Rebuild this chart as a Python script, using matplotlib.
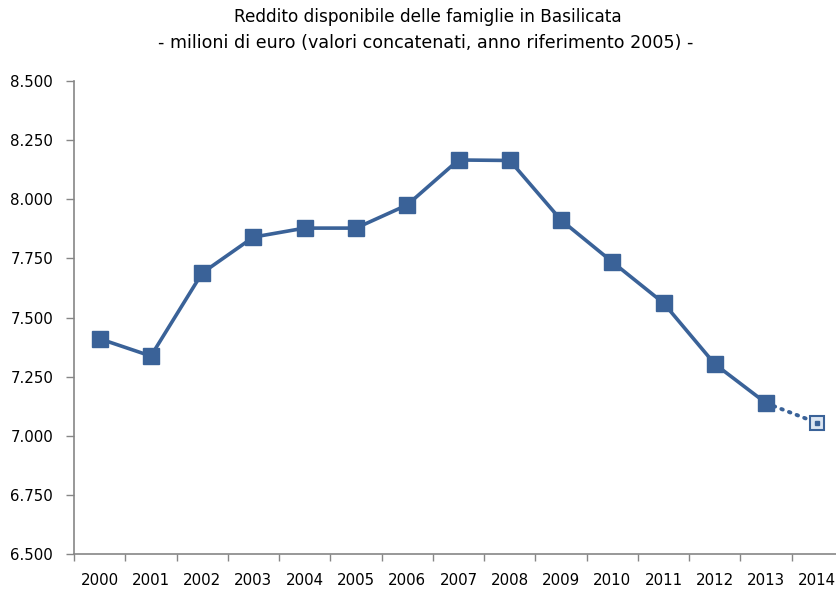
import matplotlib
matplotlib.use("Agg")
import matplotlib.pyplot as plt
from matplotlib.ticker import FuncFormatter, FixedLocator

years = ["2000", "2001", "2002", "2003", "2004", "2005", "2006", "2007",
         "2008", "2009", "2010", "2011", "2012", "2013", "2014"]
reddito = [7.410, 7.337, 7.688, 7.840, 7.878, 7.878, 7.976, 8.166,
           8.164, 7.912, 7.735, 7.561, 7.303, 7.138, 7.054]
y_ticks = [6.5, 6.75, 7.0, 7.25, 7.5, 7.75, 8.0, 8.25, 8.5]

plt.rcParams['font.family'] = ['DejaVu Sans']
W, H = 836, 591
fig = plt.figure(figsize=(W / 100, H / 100), dpi=100)
ax = fig.add_axes([74 / W, 1 - 554 / H, (843 - 74) / W, (554 - 81) / H])

blue = "#3A6298"
grey = "#868686"
x = list(range(len(years)))

# observed series (solid) and estimate for the last year (dotted)
ax.plot(x[:-1], reddito[:-1], color=blue, lw=2.6, marker="s", ms=11,
        mfc=blue, mec=blue, zorder=3, clip_on=False)
ax.plot(x[-2:], reddito[-2:], color=blue, lw=2.8, ls=(0, (0.4, 1.7)),
        dash_capstyle="round", zorder=2, clip_on=False)
ax.plot(x[-1:], reddito[-1:], ls="none", marker="s", ms=9.5, mfc="#DCE6F2",
        mec=blue, mew=1.5, zorder=4, clip_on=False)
ax.plot(x[-1:], reddito[-1:], ls="none", marker="s", ms=3.5, mfc=blue,
        mec=blue, zorder=5, clip_on=False)

ax.set_xlim(-0.5, len(years) - 0.5)
ax.set_ylim(6.5, 8.5)
ax.set_yticks(y_ticks)
ax.yaxis.set_major_formatter(FuncFormatter(lambda v, p: f"{v:.3f}"))
ax.set_xticks(x)
ax.set_xticklabels(years)
ax.xaxis.set_minor_locator(FixedLocator([i - 0.5 for i in range(len(years) + 1)]))
ax.tick_params(axis="x", which="major", length=0, pad=14, labelsize=10.8)
ax.tick_params(axis="x", which="minor", length=5, width=1, color=grey)
ax.tick_params(axis="y", length=6, width=1, color=grey, pad=9, labelsize=10.8)

for s in ("top", "right"):
    ax.spines[s].set_visible(False)
for s in ("left", "bottom"):
    ax.spines[s].set_color(grey)
    ax.spines[s].set_linewidth(1.2)

fig.text(428 / W, 1 - 17 / H, "Reddito disponibile delle famiglie in Basilicata",
         ha="center", va="center", fontsize=12.2)
fig.text(426 / W, 1 - 43 / H,
         "- milioni di euro (valori concatenati, anno riferimento 2005) -",
         ha="center", va="center", fontsize=12.6)

fig.savefig("out.png", dpi=100)
